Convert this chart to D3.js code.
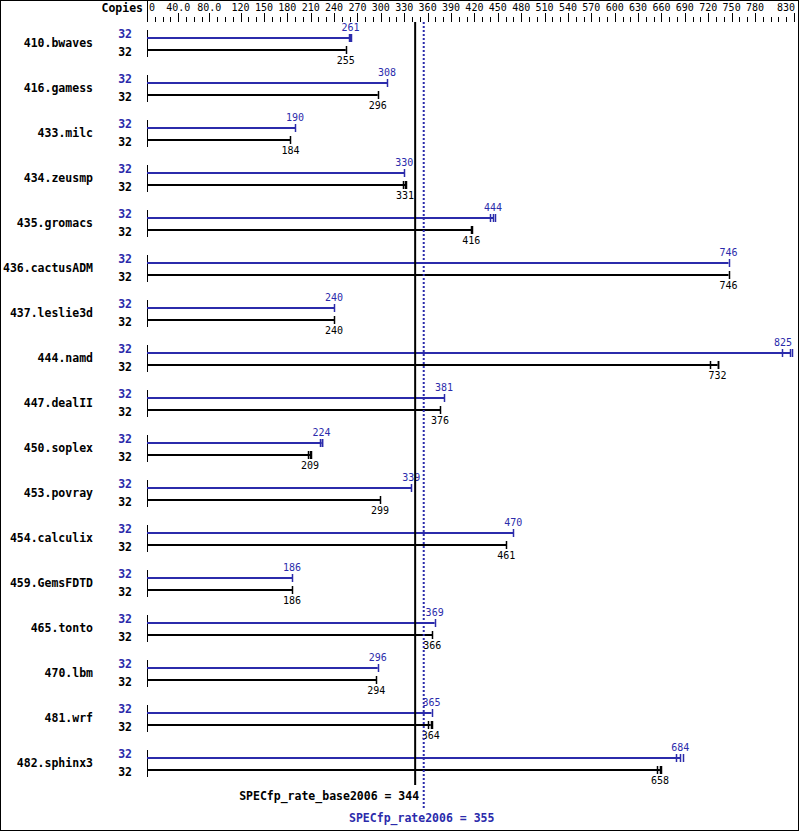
<!DOCTYPE html>
<html>
<head>
<meta charset="utf-8">
<script src="https://cdn.jsdelivr.net/npm/d3@7"></script>
<style>
body { margin: 0; background: #fff; }
svg { display: block; }
</style>
</head>
<body>
<svg id="chart"></svg>
<script>
// data
var benchmarks = ["410.bwaves", "416.gamess", "433.milc", "434.zeusmp", "435.gromacs", "436.cactusADM",
    "437.leslie3d", "444.namd", "447.dealII", "450.soplex", "453.povray", "454.calculix",
    "459.GemsFDTD", "465.tonto", "470.lbm", "481.wrf", "482.sphinx3"];
var peakCopies = [32, 32, 32, 32, 32, 32, 32, 32, 32, 32, 32, 32, 32, 32, 32, 32, 32];
var baseCopies = [32, 32, 32, 32, 32, 32, 32, 32, 32, 32, 32, 32, 32, 32, 32, 32, 32];
var peakValues = [261, 308, 190, 330, 444, 746, 240, 825, 381, 224, 339, 470, 186, 369, 296, 365, 684];
var baseValues = [255, 296, 184, 331, 416, 746, 240, 732, 376, 209, 299, 461, 186, 366, 294, 364, 658];
// individual run results (tick marks at the bar ends)
var peakRuns = [[259, 261, 262], [308], [190], [330], [440, 444, 447], [746], [240], [815, 825, 828],
    [381], [222, 224, 225], [339], [470], [186], [369], [296], [365], [678, 684, 687]];
var baseRuns = [[255], [296], [184], [329, 331, 332], [416, 417], [746], [240], [722, 732, 733],
    [376], [207, 209, 210], [299], [461], [186], [366], [294], [361, 364, 365], [654, 658, 660]];
var tickLabels = ["0", "40.0", "80.0", "120", "150", "180", "210", "240", "270", "300", "330", "360",
    "390", "420", "450", "480", "510", "540", "570", "600", "630", "660", "690", "720", "750", "780", "830"];
var baseMean = 344;
var peakMean = 355;

var W = 799, H = 831;
var blue = "#2b2bab";
var mono = "'DejaVu Sans Mono', monospace";

var svg = d3.select("#chart").attr("width", W).attr("height", H);

var x = d3.scaleLinear().domain([0, 830]).range([147, 794]);
var y = d3.scaleBand().domain(benchmarks).range([16, 16 + 45 * benchmarks.length]);

var rows = benchmarks.map(function (b, i) {
    return {name: b, peak: peakValues[i], base: baseValues[i], pc: peakCopies[i], bc: baseCopies[i],
        pr: peakRuns[i], br: baseRuns[i], py: y(b) + 22, by: y(b) + 34};
});

// frame
svg.append("rect").attr("x", 0.5).attr("y", 0.5).attr("width", W - 1).attr("height", H - 1)
    .attr("fill", "none").attr("stroke", "#000");

// header
svg.append("text").attr("x", 143).attr("y", 12).attr("text-anchor", "end")
    .attr("font-family", mono).attr("font-weight", "bold").attr("font-size", "11.5px").text("Copies");
svg.append("line").attr("x1", 147.5).attr("x2", 147.5).attr("y1", 0).attr("y2", 22).attr("stroke", "#000");

var labelVals = tickLabels.map(function (t) { return parseFloat(t); });
var axis = svg.append("g").attr("class", "topAxis");
axis.selectAll(".tick").data(d3.range(0, 831, 10).concat([830]))
    .enter().append("line")
    .attr("x1", function (d) { return Math.round(x(d)) + 0.5; })
    .attr("x2", function (d) { return Math.round(x(d)) + 0.5; })
    .attr("y1", function (d) { return labelVals.indexOf(d) >= 0 ? 13 : 17; })
    .attr("y2", 22)
    .attr("stroke", "#000");
axis.selectAll(".lbl").data(tickLabels).enter().append("text")
    .attr("x", function (d, i) {
        if (i == 0) return x(0) + 2;
        if (i == tickLabels.length - 1) return 795;
        return x(labelVals[i]);
    })
    .attr("y", 11)
    .attr("text-anchor", function (d, i) {
        if (i == 0) return "start";
        if (i == tickLabels.length - 1) return "end";
        return "middle";
    })
    .attr("font-family", mono).attr("font-size", "10px").text(function (d) { return d; });

// rows
var g = svg.selectAll(".row").data(rows).enter().append("g").attr("class", "row");

g.append("text").attr("x", 93).attr("y", function (d) { return d.py + 9; })
    .attr("text-anchor", "end").attr("font-family", mono).attr("font-weight", "bold")
    .attr("font-size", "11.5px").text(function (d) { return d.name; });

g.append("text").attr("x", 132).attr("y", function (d) { return d.py; })
    .attr("text-anchor", "end").attr("font-family", mono).attr("font-weight", "bold")
    .attr("font-size", "11.5px").attr("fill", blue).text(function (d) { return d.pc; });
g.append("text").attr("x", 132).attr("y", function (d) { return d.by + 6; })
    .attr("text-anchor", "end").attr("font-family", mono).attr("font-weight", "bold")
    .attr("font-size", "11.5px").attr("fill", "#000").text(function (d) { return d.bc; });

g.append("line").attr("x1", 147.5).attr("x2", 147.5)
    .attr("y1", function (d) { return d.py - 8; }).attr("y2", function (d) { return d.by + 7; })
    .attr("stroke", "#000");

// bars
g.append("line").attr("x1", x(0)).attr("x2", function (d) { return x(d.peak); })
    .attr("y1", function (d) { return d.py; }).attr("y2", function (d) { return d.py; })
    .attr("stroke", blue).attr("stroke-width", 2);
g.append("line").attr("x1", x(0)).attr("x2", function (d) { return x(d.base); })
    .attr("y1", function (d) { return d.by; }).attr("y2", function (d) { return d.by; })
    .attr("stroke", "#000").attr("stroke-width", 2);

// run ticks
g.each(function (d) {
    var row = d3.select(this);
    row.selectAll(".pt").data(d.pr).enter().append("line")
        .attr("x1", function (v) { return Math.round(x(v)) + 0.5; })
        .attr("x2", function (v) { return Math.round(x(v)) + 0.5; })
        .attr("y1", d.py - 4).attr("y2", d.py + 4)
        .attr("stroke", blue).attr("stroke-width", 1.5);
    row.selectAll(".bt").data(d.br).enter().append("line")
        .attr("x1", function (v) { return Math.round(x(v)) + 0.5; })
        .attr("x2", function (v) { return Math.round(x(v)) + 0.5; })
        .attr("y1", d.by - 4).attr("y2", d.by + 4)
        .attr("stroke", "#000").attr("stroke-width", 1.5);
});

// value labels
g.append("text").attr("x", function (d) { return Math.min(x(d.peak), 783); })
    .attr("y", function (d) { return d.py - 7; })
    .attr("text-anchor", "middle").attr("font-family", mono).attr("font-size", "10px")
    .attr("fill", blue).text(function (d) { return d.peak; });
g.append("text").attr("x", function (d) { return Math.min(x(d.base), 783); })
    .attr("y", function (d) { return d.by + 14; })
    .attr("text-anchor", "middle").attr("font-family", mono).attr("font-size", "10px")
    .attr("fill", "#000").text(function (d) { return d.base; });

// overall means
svg.append("line").attr("x1", x(baseMean)).attr("x2", x(baseMean)).attr("y1", 22).attr("y2", 785)
    .attr("stroke", "#000").attr("stroke-width", 2);
svg.append("line").attr("x1", x(peakMean)).attr("x2", x(peakMean)).attr("y1", 22).attr("y2", 808)
    .attr("stroke", blue).attr("stroke-width", 2).attr("stroke-dasharray", "2,2");

svg.append("text").attr("x", x(baseMean) + 4).attr("y", 800).attr("text-anchor", "end")
    .attr("font-family", mono).attr("font-weight", "bold").attr("font-size", "11.5px")
    .text("SPECfp_rate_base2006 = " + baseMean);
svg.append("text").attr("x", x(peakMean) - 2).attr("y", 822).attr("text-anchor", "middle")
    .attr("font-family", mono).attr("font-weight", "bold").attr("font-size", "11.5px")
    .attr("fill", blue).text("SPECfp_rate2006 = " + peakMean);
</script>
</body>
</html>
